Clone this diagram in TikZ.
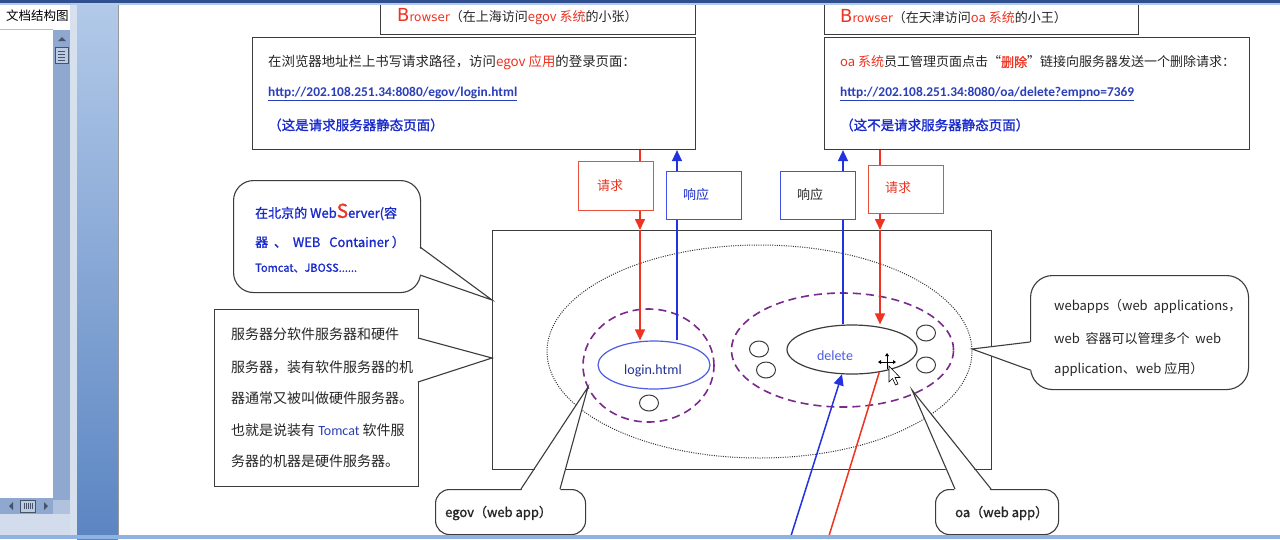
\documentclass[tikz,border=0pt]{standalone}
\usepackage{fontspec}
\setmainfont{Noto Sans CJK SC}
\newfontfamily\zhb{Noto Sans CJK SC}[FakeBold=1.2]
\newfontfamily\carl{Carlito}
\newfontfamily\dvs{DejaVu Sans}
\usetikzlibrary{arrows.meta,shapes.geometric}
\definecolor{cred}{HTML}{EE3322}
\definecolor{bred}{HTML}{E8503A}
\definecolor{cblue}{HTML}{2233DD}
\definecolor{tblue}{HTML}{1A2BCC}
\definecolor{ulink}{HTML}{2A3FB8}
\definecolor{cpurp}{HTML}{7A2A8C}
\definecolor{cgray}{HTML}{3C3C3C}
\definecolor{ctext}{HTML}{262626}
\definecolor{sbar}{HTML}{8EA8D0}
\definecolor{sideTop}{HTML}{B3CAE9}
\definecolor{sideBot}{HTML}{5B85C2}
\definecolor{topbar}{HTML}{2F4F8F}
\definecolor{botbar}{HTML}{8FB3E0}
\newcommand\sz[1]{\fontsize{#1}{#1}\selectfont}
\begin{document}
\begin{tikzpicture}[x=1pt,y=-1pt,
  box/.style={draw=cgray, line width=1.1pt, fill=white, inner sep=0pt},
  txt/.style={anchor=west, inner sep=0pt, text=ctext, font=\sz{13}},
  arr/.style={line width=1.5pt, -{Triangle[width=10pt,length=11pt]}},
  callline/.style={draw=cgray, line width=1.1pt},
  bubble/.style={draw=cgray, line width=1.1pt, fill=white, inner sep=0pt},
  smallc/.style={ellipse, draw=cgray, line width=1pt, minimum width=19pt, minimum height=16pt, inner sep=0pt},
  reqbox/.style={draw=bred, line width=1.1pt, fill=white, minimum width=75pt, minimum height=49pt, anchor=north west, inner sep=0pt},
  respbox/.style={draw=cblue!85, line width=1.1pt, fill=white, minimum width=75pt, minimum height=48pt, anchor=north west, inner sep=0pt}]
\useasboundingbox (0,0) rectangle (1280,539);
\fill[white] (0,0) rectangle (1280,539);

% server machine
\node[draw=cgray, line width=1.2pt, minimum width=499pt, minimum height=239pt, anchor=north west, inner sep=0pt] (srv) at (492,230) {};
\node[ellipse, draw=black!80, line width=1pt, dash pattern=on 1pt off 1.3pt, minimum width=425pt, minimum height=213pt, inner sep=0pt] (apps) at (759.5,351.5) {};
\node[ellipse, draw=cpurp, line width=1.6pt, dash pattern=on 8pt off 5pt, minimum width=131pt, minimum height=113pt, inner sep=0pt] (egov) at (648.5,365.5) {};
\node[ellipse, draw=cpurp, line width=1.6pt, dash pattern=on 8pt off 5pt, minimum width=222pt, minimum height=114pt, inner sep=0pt] (oa) at (842.5,350) {};
\node[ellipse, draw=cblue!80, line width=1.2pt, minimum width=112pt, minimum height=48pt, inner sep=0pt] (login) at (654,365) {};
\node[text=ulink!80!black, font=\carl\sz{14}, inner sep=0pt] (loginlbl) at (653,371) {login.html};
\node[ellipse, draw=cgray, line width=1.2pt, minimum width=130pt, minimum height=49pt, inner sep=0pt] (del) at (852,349.5) {};
\node[text=cblue!80, font=\carl\sz{14}, inner sep=0pt] (dellbl) at (835,356) {delete};
\node[smallc] (c0) at (649,403) {};
\node[smallc] (c1) at (759,349) {};
\node[smallc] (c2) at (766,370) {};
\node[smallc] (c3) at (926,333) {};
\node[smallc] (c4) at (926,365) {};

% browser boxes
\node[box, minimum width=315pt, minimum height=40pt, anchor=south west] (brL) at (380,35) {};
\node[box, minimum width=443pt, minimum height=112pt, anchor=north west] (bodyL) at (252,37) {};
\node[box, minimum width=314pt, minimum height=40pt, anchor=south west] (brR) at (824,35) {};
\node[box, minimum width=425pt, minimum height=112pt, anchor=north west] (bodyR) at (824,37) {};

\node[txt] (brLt) at (397,17) {{\dvs\color{cred}\sz{18}B\sz{12}rowser}（在上海访问{\color{cred}egov 系统}的小张）};
\node[txt] (brRt) at (840,17) {{\dvs\color{cred}\sz{18}B\sz{12}rowser}（在天津访问{\color{cred}oa 系统}的小王）};

\node[txt, font=\sz{13.4}] (l1) at (268,62) {在浏览器地址栏上书写请求路径，访问{\color{cred}egov 应用}的登录页面：};
\node[txt, text=ulink, font=\carl\bfseries\sz{13.4}] (l2) at (268,94) {\underline{http://202.108.251.34:8080/egov/login.html}};
\node[txt, text=tblue, font=\zhb\sz{13.5}] (l3) at (268,125) {（这是请求服务器静态页面）};

\node[txt] (r1) at (840,62) {{\color{cred}oa 系统}员工管理页面点击“{\zhb\color{cred}删除}”链接向服务器发送一个删除请求：};
\node[txt, text=ulink, font=\carl\bfseries\sz{13.4}] (r2) at (840,94) {\underline{http://202.108.251.34:8080/oa/delete?empno=7369}};
\node[txt, text=tblue, font=\zhb\sz{13.5}] (r3) at (840,125) {（这不是请求服务器静态页面）};

% x positions of the connectors
\coordinate (xr1) at (640,0);
\coordinate (xb1) at (677,0);
\coordinate (xb2) at (843,0);
\coordinate (xr2) at (880,0);
\coordinate (bb) at (790,539);
\coordinate (br) at (828,539);

\draw[arr, cred] (bodyL.south -| xr1) -- (srv.north -| xr1);
\draw[arr, cred] (srv.north -| xr1) -- (login.north -| xr1);
\draw[arr, cblue] (login.north -| xb1) -- (bodyL.south -| xb1);
\draw[arr, cblue] (del.north -| xb2) -- (bodyR.south -| xb2);
\draw[arr, cred] (bodyR.south -| xr2) -- (srv.north -| xr2);
\draw[arr, cred] (srv.north -| xr2) -- (del.north -| xr2);
\draw[arr, cblue] (bb) -- (del.248);
\draw[line width=1.5pt, cred] (br) -- (del.320);

% request / response boxes
\node[reqbox] (reqL) at (578,161) {};
\node[txt, text=cred] (reqLt) at (597,186) {请求};
\node[respbox] (respL) at (666,171) {};
\node[txt, text=tblue] (respLt) at (683,195) {响应};
\node[respbox] (respR) at (780,171) {};
\node[txt, text=ctext] (respRt) at (797,195) {响应};
\node[reqbox, minimum height=48pt] (reqR) at (868,165) {};
\node[txt, text=cred] (reqRt) at (885,188) {请求};

% callout: web server
\node[bubble, rounded corners=20pt, minimum width=187pt, minimum height=112pt, anchor=north west] (ws) at (233,180) {};
\coordinate (wstip) at (492,300);
\fill[white] (418,247) -- (wstip) -- (418,275) -- cycle;
\draw[callline] (420,247) -- (wstip) -- (420,275);
\node[txt, text=tblue, font=\zhb\sz{13}] (ws1) at (255,212) {在北京的 Web{\color{cred}\sz{19}S}erver(容};
\node[txt, text=tblue, font=\zhb\sz{13}] (ws2) at (255,242) {器\ \ 、\ \ WEB\ \ \ Container\ ）};
\node[txt, text=tblue, font=\zhb\sz{11}] (ws3) at (255,268) {Tomcat、JBOSS......};

% callout: hardware server note
\node[bubble, minimum width=204pt, minimum height=177pt, anchor=north west] (note) at (214,309) {};
\coordinate (notetip) at (492,358);
\fill[white] (416,338) -- (notetip) -- (416,382) -- cycle;
\draw[callline] (418,338) -- (notetip) -- (418,382);
\node[txt, font=\sz{14}] (n1) at (231,334) {服务器分软件服务器和硬件};
\node[txt, font=\sz{14}] (n2) at (231,367) {服务器，装有软件服务器的机};
\node[txt, font=\sz{14}] (n3) at (231,398) {器通常又被叫做硬件服务器。};
\node[txt, font=\sz{14}] (n4) at (231,430) {也就是说装有 {\color{ulink}\carl Tomcat} 软件服};
\node[txt, font=\sz{14}] (n5) at (231,461) {务器的机器是硬件服务器。};

% callout: webapps
\node[bubble, rounded corners=22pt, minimum width=218pt, minimum height=114pt, anchor=north west] (wa) at (1030,275) {};
\coordinate (watip) at (972,349);
\fill[white] (1032,342) -- (watip) -- (1032,370) -- cycle;
\draw[callline] (1030,342) -- (watip) -- (1030,370);
\node[txt] (wa1) at (1054,306) {webapps（web\ \ applications，};
\node[txt] (wa2) at (1054,339) {web\ \ 容器可以管理多个\ \ web};
\node[txt] (wa3) at (1054,369) {application、web 应用）};

% callout: egov
\node[bubble, rounded corners=14pt, minimum width=150pt, minimum height=45pt, anchor=north west] (egb) at (435,489) {};
\coordinate (egtip) at (588,387);
\fill[white] (521,491) -- (egtip) -- (560,491) -- cycle;
\draw[callline] (521,489) -- (egtip) -- (560,489);
\node[txt, font=\zhb\sz{13}] (egt) at (445,513) {egov（web app）};

% callout: oa
\node[bubble, rounded corners=14pt, minimum width=123pt, minimum height=45pt, anchor=north west] (oab) at (935,489) {};
\coordinate (oatip) at (912,390);
\fill[white] (955,491) -- (oatip) -- (991,491) -- cycle;
\draw[callline] (955,489) -- (oatip) -- (991,489);
\node[txt, font=\zhb\sz{13}] (oat) at (955,513) {oa（web app）};

% mouse cursor
\draw[line width=1pt] (880,362) -- (894,362) (887,355) -- (887,369);
\fill (878,362) -- (881,360) -- (881,364) -- cycle;
\fill (896,362) -- (893,360) -- (893,364) -- cycle;
\fill (887,353) -- (885,356) -- (889,356) -- cycle;
\draw[fill=white, line width=0.6pt] (889,366) -- (889,382) -- (892.5,378.5) -- (895.5,385) -- (898,384) -- (895,377.5) -- (900,377.5) -- cycle;

% window chrome: left panel
\fill[white] (0,0) rectangle (118,539);
\draw[black!25] (0,29) -- (53,29);
\node[txt, text=black, font=\sz{12.5}] (doctitle) at (6,16) {文档结构图};
\fill[sbar] (53,30) rectangle (70,500);
\fill[sbar!60!white] (55,47) rectangle (68,63);
\draw[sbar!50!black, line width=0.4pt] (55,47) rectangle (68,63);
\foreach \yy in {51,54,57,60} \draw[sbar!50!black, line width=0.4pt] (58,\yy) -- (65,\yy);
\fill[sbar!50!black] (58,41) -- (66,41) -- (62,37) -- cycle;
\fill[sbar!50!black] (58,502) -- (66,502) -- (62,506) -- cycle;
\fill[sbar] (0,498) rectangle (53,514);
\fill[sbar!60!white] (20,500) rectangle (35,512);
\draw[sbar!50!black, line width=0.4pt] (20,500) rectangle (35,512);
\foreach \xx in {24,26,28,30,32} \draw[sbar!50!black, line width=0.4pt] (\xx,503) -- (\xx,509);
\fill[sbar!50!black] (13,502) -- (13,510) -- (9,506) -- cycle;
\fill[sbar!50!black] (44,502) -- (44,510) -- (48,506) -- cycle;
\fill[sbar!70!white] (53,500) rectangle (70,514);
\fill[sbar!40!white] (0,514) rectangle (70,535);
\fill[sbar!35!white] (70,0) rectangle (77,539);
\shade[top color=sideTop, bottom color=sideBot] (77,0) rectangle (118,539);
\draw[black!40, line width=0.8pt] (118.5,5) -- (118.5,539);
\fill[topbar] (0,0) rectangle (1280,3);
\fill[sideTop] (0,3) rectangle (1280,5);
\fill[botbar] (0,535) rectangle (1280,539);
\end{tikzpicture}
\end{document}
